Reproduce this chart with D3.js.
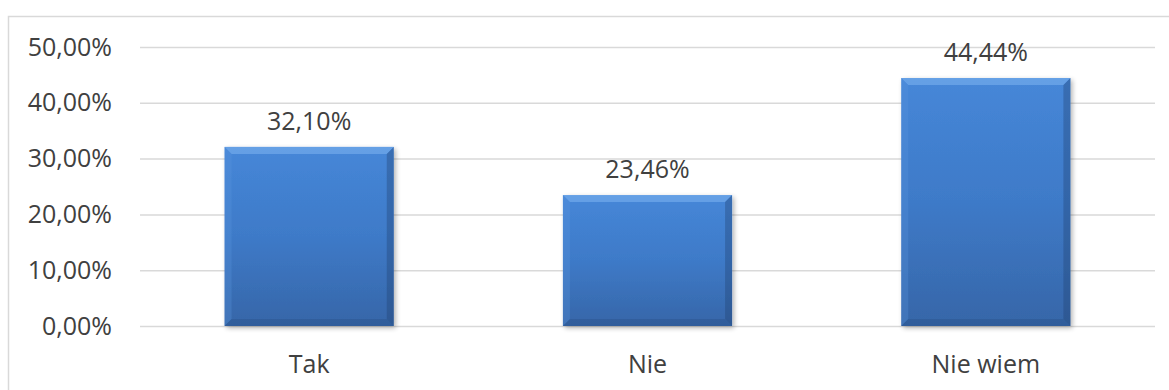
<!DOCTYPE html>
<html>
<head>
<meta charset="utf-8">
<script src="https://cdn.jsdelivr.net/npm/d3@7"></script>
<style>
  html, body { margin: 0; padding: 0; background: #fff; }
  svg { display: block; }
  text { font-family: "Open Sans", "Liberation Sans", sans-serif; fill: #404040; }
</style>
</head>
<body>
<svg id="chart" width="1169" height="390"></svg>
<script>
// Survey answers and their shares (percent)
const categories = ["Tak", "Nie", "Nie wiem"];
const values = [32.10, 23.46, 44.44];
const yTicks = [0, 10, 20, 30, 40, 50];

const W = 1169, H = 390;
const margin = { left: 140, right: 14, top: 47, bottom: 64 };

const svg = d3.select("#chart");
const fmt = v => v.toFixed(2).replace(".", ",") + "%";

// Chart frame (top and left edges visible)
svg.append("path")
  .attr("d", `M8.5,${H} V16.5 H${W}`)
  .attr("fill", "none")
  .attr("stroke", "#d9d9d9")
  .attr("stroke-width", 1.5);

const x = d3.scaleBand()
  .domain(categories)
  .range([margin.left, W - margin.right])
  .paddingInner(0.5)
  .paddingOuter(0.25);

const y = d3.scaleLinear()
  .domain([0, 50])
  .range([H - margin.bottom, margin.top]);

const defs = svg.append("defs");
const grad = defs.append("linearGradient")
  .attr("id", "barFill").attr("x1", 0).attr("y1", 0).attr("x2", 0).attr("y2", 1);
grad.append("stop").attr("offset", "0%").attr("stop-color", "#4687d8");
grad.append("stop").attr("offset", "50%").attr("stop-color", "#3e7ac8");
grad.append("stop").attr("offset", "100%").attr("stop-color", "#3666a8");

const shadow = defs.append("filter").attr("id", "barShadow")
  .attr("x", "-10%").attr("y", "-10%").attr("width", "130%").attr("height", "130%");
shadow.append("feGaussianBlur").attr("in", "SourceAlpha").attr("stdDeviation", 2.5);
shadow.append("feOffset").attr("dx", 2).attr("dy", 2).attr("result", "blur");
shadow.append("feComponentTransfer").append("feFuncA").attr("type", "linear").attr("slope", 0.3);
const merge = shadow.append("feMerge");
merge.append("feMergeNode");
merge.append("feMergeNode").attr("in", "SourceGraphic");

// Gridlines and y-axis labels
const yAxis = d3.axisLeft(y).tickValues(yTicks)
  .tickSize(-(W - margin.right - margin.left))
  .tickFormat(fmt)
  .tickPadding(28);

const gy = svg.append("g")
  .attr("transform", `translate(${margin.left},0)`)
  .call(yAxis);
gy.select(".domain").remove();
gy.selectAll(".tick line").attr("stroke", "#d9d9d9").attr("stroke-width", 1.5);
gy.selectAll(".tick text")
  .style("font-size", "25px")
  .attr("fill", "#595959");

// Bars with bevelled edges
const bw = x.bandwidth();
const bev = 7;
const bars = svg.append("g").selectAll("g.bar")
  .data(categories.map((c, i) => ({ c, v: values[i] })))
  .join("g").attr("class", "bar");

bars.append("rect")
  .attr("x", d => x(d.c))
  .attr("y", d => y(d.v))
  .attr("width", bw)
  .attr("height", d => y(0) - y(d.v))
  .attr("fill", "url(#barFill)")
  .attr("filter", "url(#barShadow)");

function bevel(sel, pts, color, op) {
  sel.append("polygon")
    .attr("points", d => pts(d).map(p => p.join(",")).join(" "))
    .attr("fill", color).attr("opacity", op);
}
// top
bevel(bars, d => { const x0 = x(d.c), x1 = x0 + bw, y0 = y(d.v);
  return [[x0, y0], [x1, y0], [x1 - bev, y0 + bev], [x0 + bev, y0 + bev]]; }, "#7ab0ee", 0.6);
// left
bevel(bars, d => { const x0 = x(d.c), y0 = y(d.v), y1 = y(0);
  return [[x0, y0], [x0 + bev, y0 + bev], [x0 + bev, y1 - bev], [x0, y1]]; }, "#5a95dd", 0.3);
// right
bevel(bars, d => { const x1 = x(d.c) + bw, y0 = y(d.v), y1 = y(0);
  return [[x1, y0], [x1, y1], [x1 - bev, y1 - bev], [x1 - bev, y0 + bev]]; }, "#1f3f6e", 0.35);
// bottom
bevel(bars, d => { const x0 = x(d.c), x1 = x0 + bw, y1 = y(0);
  return [[x0, y1], [x0 + bev, y1 - bev], [x1 - bev, y1 - bev], [x1, y1]]; }, "#24497d", 0.3);

// Value labels
bars.append("text")
  .attr("x", d => x(d.c) + bw / 2)
  .attr("y", d => y(d.v) - 17)
  .attr("text-anchor", "middle")
  .style("font-size", "25px")
  .text(d => fmt(d.v));

// Category labels
svg.append("g").selectAll("text")
  .data(categories)
  .join("text")
  .attr("x", d => x(d) + bw / 2)
  .attr("y", y(0) + 47)
  .attr("text-anchor", "middle")
  .style("font-size", "25px")
  .text(d => d);
</script>
</body>
</html>
